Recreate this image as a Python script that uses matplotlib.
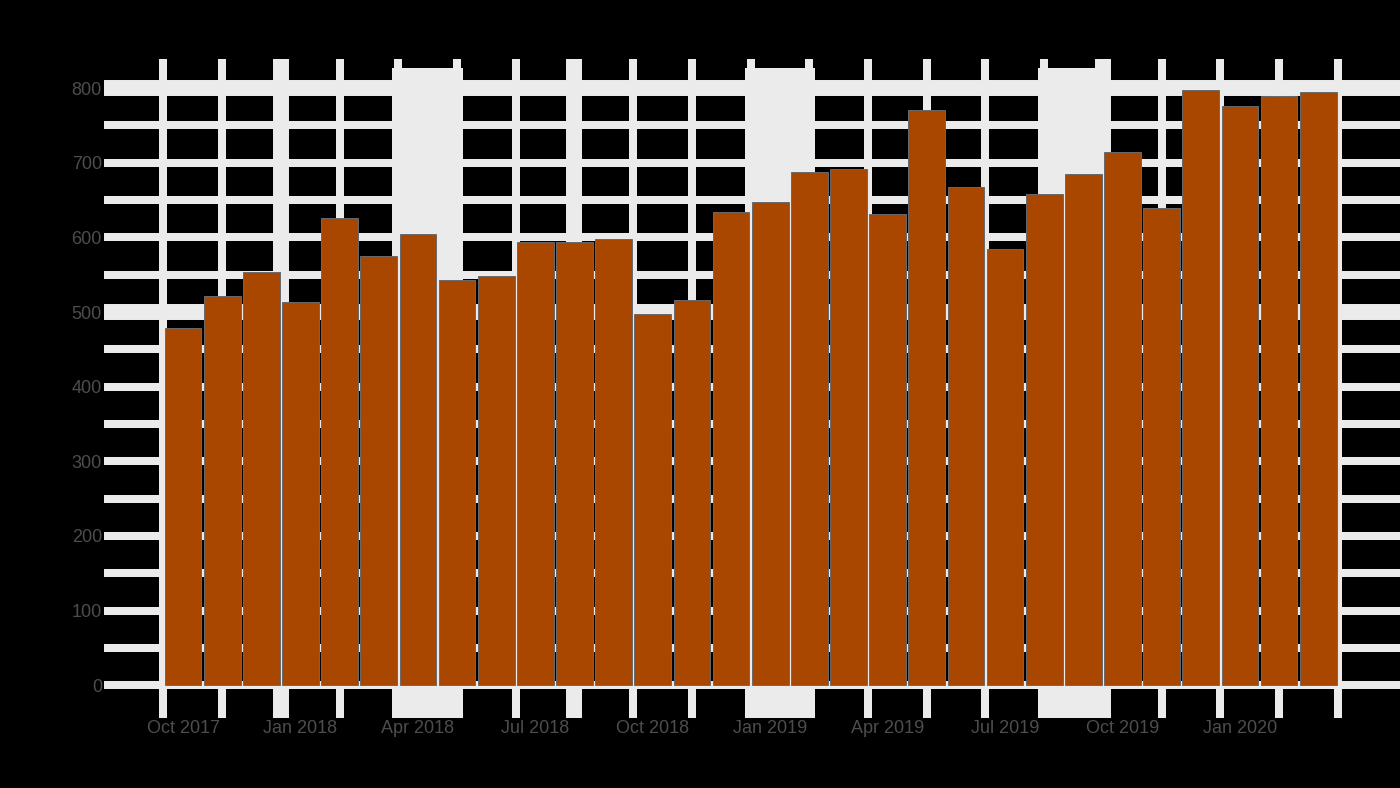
import numpy as np
import matplotlib
matplotlib.use("Agg")
from matplotlib import pyplot as plt

# Datos mensuales
meses = ["Oct 2017", "Nov 2017", "Dec 2017", "Jan 2018", "Feb 2018", "Mar 2018",
         "Apr 2018", "May 2018", "Jun 2018", "Jul 2018", "Aug 2018", "Sep 2018",
         "Oct 2018", "Nov 2018", "Dec 2018", "Jan 2019", "Feb 2019", "Mar 2019",
         "Apr 2019", "May 2019", "Jun 2019", "Jul 2019", "Aug 2019", "Sep 2019",
         "Oct 2019", "Nov 2019", "Dec 2019", "Jan 2020", "Feb 2020", "Mar 2020"]
valores = [478, 522, 554, 514, 626, 575, 605, 543, 548, 594, 594, 598,
           497, 516, 634, 647, 688, 692, 631, 771, 667, 584, 658, 685,
           714, 639, 797, 776, 789, 795]

# marcas del eje
y_ticks = [0, 100, 200, 300, 400, 500, 600, 700, 800]
y_menores = [50, 150, 250, 350, 450, 550, 650, 750]
x_lineas = [-0.5, 1, 2.5, 4, 5.5, 7, 8.5, 10, 11.5, 13, 14.5, 16, 17.5, 19,
            20.5, 22, 23.5, 25, 26.5, 28, 29.5]
x_gruesas = [2.5, 10, 23.5]
y_gruesas = [500, 800]
bandas = [(5.35, 7.15), (14.35, 16.15), (21.85, 23.65)]

gris_linea = "#EBEBEB"
gris_texto = "#4D4D4D"
color_barra = "#A94700"

fig = plt.figure(figsize=(14, 7.88), dpi=100, facecolor="black")
ax = fig.add_axes([104 / 1400, 1 - 718 / 788, 1296 / 1400, 659 / 788])
ax.set_facecolor("black")

x = np.arange(len(valores))

# bandas claras
for a, b in bandas:
    ax.axvspan(a, b, ymin=0, ymax=0.986, color=gris_linea, lw=0, zorder=1)

# lineas de grilla
for v in y_ticks + y_menores:
    lw = 11.5 if v in y_gruesas else 5.76
    ax.axhline(v, color=gris_linea, lw=lw, zorder=1)
for v in x_lineas:
    lw = 11.5 if v in x_gruesas else 5.76
    ax.axvline(v, color=gris_linea, lw=lw, zorder=1)

ax.bar(x, valores, width=0.94, color=color_barra, edgecolor="#6A6A6A",
       linewidth=0.7, zorder=3)

ax.set_xlim(-2.02, 31.09)
ax.set_ylim(-44, 839)

ax.set_yticks(y_ticks)
ax.set_yticklabels([str(v) for v in y_ticks])
ax.set_xticks(x[::3])
ax.set_xticklabels(meses[::3])
ax.tick_params(length=0, colors=gris_texto, labelsize=13, pad=1.5)
for lab in ax.get_xticklabels() + ax.get_yticklabels():
    lab.set_family("Liberation Sans")

for s in ax.spines.values():
    s.set_visible(False)

fig.savefig("out.png", dpi=100, facecolor="black")
